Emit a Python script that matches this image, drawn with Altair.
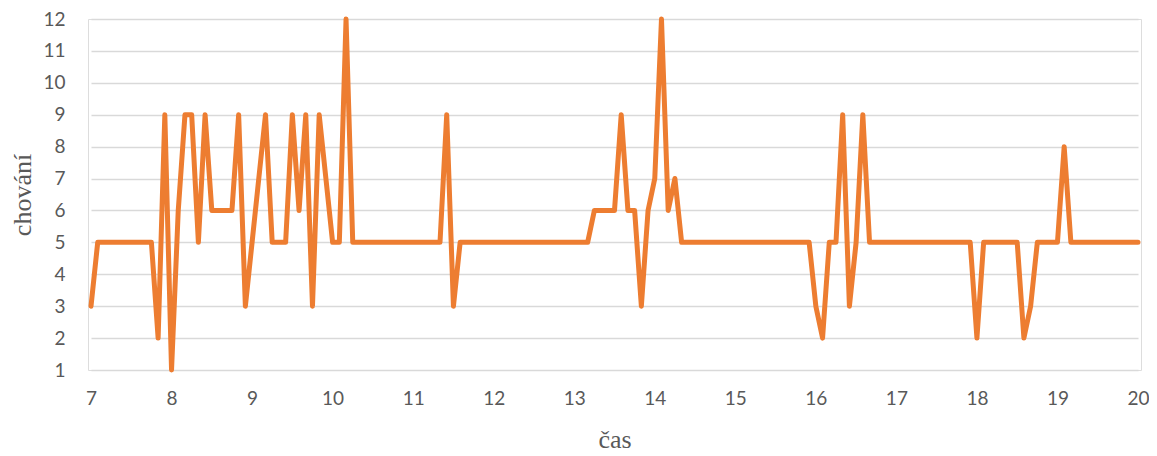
import altair as alt
import pandas as pd

# behaviour score sampled every 5 minutes from 7:00 to 20:00
start_hour = 7
step_minutes = 5
chovani = [
    3, 5, 5, 5, 5, 5, 5, 5, 5, 5, 2, 9,      # 7:00 - 7:55
    1, 6, 9, 9, 5, 9, 6, 6, 6, 6, 9, 3,      # 8
    5, 7, 9, 5, 5, 5, 9, 6, 9, 3, 9, 7,      # 9
    5, 5, 12, 5, 5, 5, 5, 5, 5, 5, 5, 5,     # 10
    5, 5, 5, 5, 5, 9, 3, 5, 5, 5, 5, 5,      # 11
    5, 5, 5, 5, 5, 5, 5, 5, 5, 5, 5, 5,      # 12
    5, 5, 5, 6, 6, 6, 6, 9, 6, 6, 3, 6,      # 13
    7, 12, 6, 7, 5, 5, 5, 5, 5, 5, 5, 5,     # 14
    5, 5, 5, 5, 5, 5, 5, 5, 5, 5, 5, 5,      # 15
    3, 2, 5, 5, 9, 3, 5, 9, 5, 5, 5, 5,      # 16
    5, 5, 5, 5, 5, 5, 5, 5, 5, 5, 5, 5,      # 17
    2, 5, 5, 5, 5, 5, 5, 2, 3, 5, 5, 5,      # 18
    5, 8, 5, 5, 5, 5, 5, 5, 5, 5, 5, 5,      # 19
    5,                                       # 20:00
]
cas = [start_hour + i * step_minutes / 60 for i in range(len(chovani))]

x_ticks = list(range(7, 21))
y_ticks = list(range(1, 13))

df = pd.DataFrame({"cas": cas, "chovani": chovani})

label_font = "Lato"
title_font = "Liberation Serif"
grey = "#595959"

chart = (
    alt.Chart(df)
    .mark_line(color="#ED7D31", strokeWidth=5, strokeJoin="round", strokeCap="round")
    .encode(
        x=alt.X(
            "cas:Q",
            scale=alt.Scale(domain=[7, 20], range=[3, 1050], nice=False, zero=False),
            axis=alt.Axis(
                values=x_ticks,
                title="čas",
                grid=False,
                domain=False,
                ticks=False,
                labelFlush=False,
                labelPadding=19,
                labelFont=label_font,
                labelFontSize=19,
                labelColor=grey,
                titleFont=title_font,
                titleFontSize=26,
                titleFontWeight="normal",
                titleColor=grey,
                titleBaseline="alphabetic",
                titleY=77,
            ),
        ),
        y=alt.Y(
            "chovani:Q",
            scale=alt.Scale(domain=[1, 12], nice=False, zero=False),
            axis=alt.Axis(
                values=y_ticks,
                title="chování",
                grid=True,
                gridColor="#D9D9D9",
                gridWidth=1.3,
                domain=False,
                ticks=False,
                labelFlush=False,
                labelPadding=23,
                labelFont=label_font,
                labelFontSize=19,
                labelColor=grey,
                titleFont=title_font,
                titleFontSize=26,
                titleFontWeight="normal",
                titleColor=grey,
                titleBaseline="middle",
                titleX=-66,
            ),
        ),
    )
    .properties(
        width=1053,
        height=351,
        autosize=alt.AutoSizeParams(type="none"),
        padding={"left": 80, "top": 11, "right": 8, "bottom": 82},
    )
    .configure_view(stroke=None)
    .configure(background="white")
)

chart.save("out.html", embed_options={"renderer": "svg", "actions": False})
